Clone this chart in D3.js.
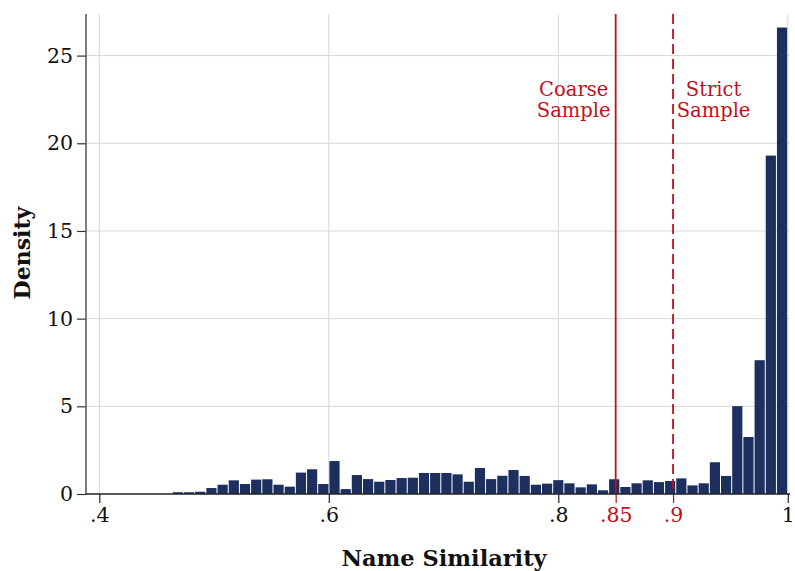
<!DOCTYPE html>
<html>
<head>
<meta charset="utf-8">
<script src="https://cdn.jsdelivr.net/npm/d3@7"></script>
<style>
  html, body { margin: 0; padding: 0; background: #fff; }
  svg { display: block; font-family: "DejaVu Serif", "Liberation Serif", serif; }
</style>
</head>
<body>
<svg id="chart" width="795" height="571"></svg>
<script>
// Histogram of name-similarity scores (density scale)
const binStart = 0.4636;
const binWidth = 0.00975;
const density = [
  0.10, 0.10, 0.13, 0.34, 0.53, 0.78, 0.57, 0.82, 0.84, 0.53,
  0.42, 1.22, 1.41, 0.57, 1.88, 0.28, 1.08, 0.85, 0.70, 0.80,
  0.91, 0.93, 1.20, 1.20, 1.20, 1.12, 0.70, 1.48, 0.85, 1.04,
  1.37, 1.03, 0.53, 0.59, 0.79, 0.61, 0.38, 0.55, 0.21, 0.84,
  0.40, 0.61, 0.78, 0.68, 0.74, 0.89, 0.49, 0.61, 1.81, 1.03,
  5.01, 3.25, 7.63, 19.3, 26.6
];
const xTicks = [0.4, 0.6, 0.8, 1];
const xTickLabels = [".4", ".6", ".8", "1"];
const yTicks = [0, 5, 10, 15, 20, 25];
const cutoffs = [0.85, 0.9];
const cutoffLabels = [".85", ".9"];
const sampleLabels = [["Coarse", "Sample"], ["Strict", "Sample"]];

const navy = "#1c2f5e";
const red = "#c0101c";
const grid = "#d8d8d8";
const tickFont = 20.5;

const plot = { left: 86, right: 790, top: 14, bottom: 494 };

const x = d3.scaleLinear().domain([0.4, 1]).range([99.3, 787.8]);
const y = d3.scaleLinear().domain([0, 25]).range([494, 55.6]);

const svg = d3.select("#chart");

// gridlines
svg.append("g").selectAll("line.h").data(yTicks.filter(d => d > 0)).join("line")
  .attr("x1", plot.left).attr("x2", plot.right)
  .attr("y1", d => y(d)).attr("y2", d => y(d))
  .attr("stroke", grid).attr("stroke-width", 1);
svg.append("g").selectAll("line.v").data(xTicks).join("line")
  .attr("x1", d => x(d)).attr("x2", d => x(d))
  .attr("y1", plot.top).attr("y2", plot.bottom)
  .attr("stroke", grid).attr("stroke-width", 1);

// bars
const bins = density.map((v, i) => ({ x0: binStart + i * binWidth, x1: binStart + (i + 1) * binWidth, v }));
svg.append("g").selectAll("rect").data(bins).join("rect")
  .attr("x", d => x(d.x0) + 0.5)
  .attr("width", d => x(d.x1) - x(d.x0) - 1)
  .attr("y", d => y(d.v))
  .attr("height", d => y(0) - y(d.v))
  .attr("fill", navy);

// cutoff lines
svg.append("g").selectAll("line").data(cutoffs).join("line")
  .attr("x1", d => x(d)).attr("x2", d => x(d))
  .attr("y1", plot.top).attr("y2", plot.bottom)
  .attr("stroke", red).attr("stroke-width", 1.8)
  .attr("stroke-dasharray", (d, i) => i === 1 ? "10,5" : null);

// cutoff annotations
const ann = svg.append("g").attr("fill", red).attr("font-size", 19.5).attr("text-anchor", "middle");
sampleLabels.forEach((lines, i) => {
  const cx = x(cutoffs[i]) + (i === 0 ? -42 : 40.5);
  lines.forEach((t, j) => {
    ann.append("text").attr("x", cx).attr("y", 96 + j * 21).text(t);
  });
});

// y axis
const yAxis = d3.axisLeft(y).tickValues(yTicks).tickSize(9).tickPadding(4).tickFormat(d3.format("d"));
const gy = svg.append("g").attr("transform", `translate(${plot.left},0)`).call(yAxis);
gy.select(".domain").remove();
gy.selectAll(".tick line").attr("stroke", "#333").attr("stroke-width", 1.2);
gy.selectAll(".tick text").attr("font-size", tickFont).attr("fill", "#111")
  .attr("font-family", "DejaVu Serif, serif");
svg.append("line").attr("x1", plot.left).attr("x2", plot.left)
  .attr("y1", plot.top).attr("y2", plot.bottom + 0.5)
  .attr("stroke", "#555").attr("stroke-width", 1.5);

// x axis
const xAxis = d3.axisBottom(x).tickValues(xTicks).tickSize(9).tickPadding(4)
  .tickFormat((d, i) => xTickLabels[i]);
const gx = svg.append("g").attr("transform", `translate(0,${plot.bottom})`).call(xAxis);
gx.select(".domain").remove();
gx.selectAll(".tick line").attr("stroke", "#222").attr("stroke-width", 1.2);
gx.selectAll(".tick text").attr("font-size", tickFont).attr("fill", "#111")
  .attr("font-family", "DejaVu Serif, serif");

const xAxisRed = d3.axisBottom(x).tickValues(cutoffs).tickSize(9).tickPadding(4)
  .tickFormat((d, i) => cutoffLabels[i]);
const gxr = svg.append("g").attr("transform", `translate(0,${plot.bottom})`).call(xAxisRed);
gxr.select(".domain").remove();
gxr.selectAll(".tick line").attr("stroke", red).attr("stroke-width", 1.2);
gxr.selectAll(".tick text").attr("font-size", tickFont).attr("fill", red)
  .attr("font-family", "DejaVu Serif, serif");

svg.append("line").attr("x1", plot.left).attr("x2", plot.right)
  .attr("y1", plot.bottom).attr("y2", plot.bottom)
  .attr("stroke", "#222").attr("stroke-width", 1.5);

// axis titles
svg.append("text").attr("x", 444).attr("y", 566)
  .attr("text-anchor", "middle").attr("font-size", 22.5).attr("font-weight", "bold")
  .attr("fill", "#111").text("Name Similarity");
svg.append("text").attr("transform", "translate(30,253) rotate(-90)")
  .attr("text-anchor", "middle").attr("font-size", 22).attr("font-weight", "bold")
  .attr("fill", "#111").text("Density");
</script>
</body>
</html>
